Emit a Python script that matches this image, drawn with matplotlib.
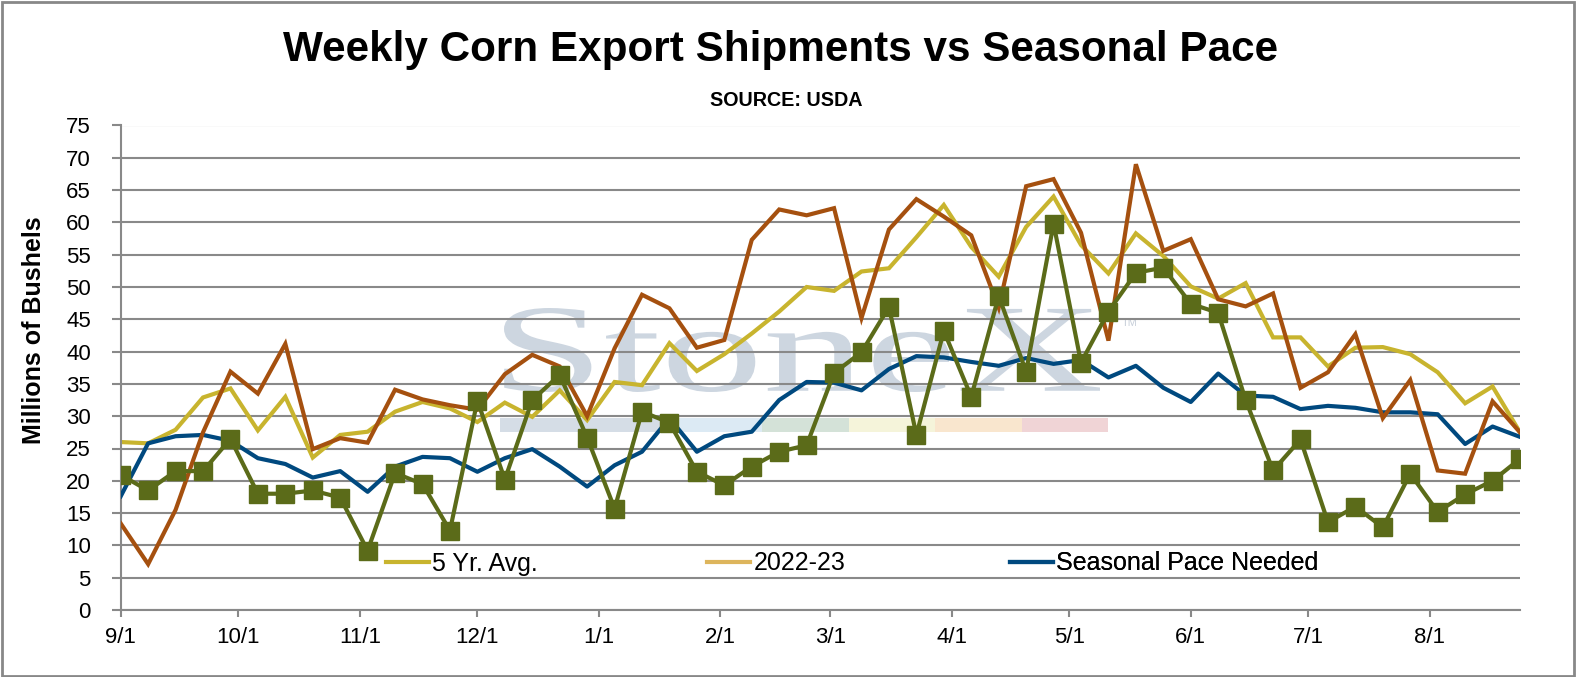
import matplotlib
matplotlib.use("Agg")
import matplotlib.pyplot as plt
import matplotlib.dates as mdates
from matplotlib.ticker import FuncFormatter
from matplotlib.lines import Line2D
from matplotlib.textpath import TextPath
from matplotlib.font_manager import FontProperties
from matplotlib.patches import PathPatch, Rectangle
from matplotlib.transforms import Affine2D
import pandas as pd

# ---------------- data ----------------
week_dates = [
    "2022-09-01", "2022-09-08", "2022-09-15", "2022-09-22", "2022-09-29",
    "2022-10-06", "2022-10-13", "2022-10-20", "2022-10-27", "2022-11-03",
    "2022-11-10", "2022-11-17", "2022-11-24", "2022-12-01", "2022-12-08",
    "2022-12-15", "2022-12-22", "2022-12-29", "2023-01-05", "2023-01-12",
    "2023-01-19", "2023-01-26", "2023-02-02", "2023-02-09", "2023-02-16",
    "2023-02-23", "2023-03-02", "2023-03-09", "2023-03-16", "2023-03-23",
    "2023-03-30", "2023-04-06", "2023-04-13", "2023-04-20", "2023-04-27",
    "2023-05-04", "2023-05-11", "2023-05-18", "2023-05-25", "2023-06-01",
    "2023-06-08", "2023-06-15", "2023-06-22", "2023-06-29", "2023-07-06",
    "2023-07-13", "2023-07-20", "2023-07-27", "2023-08-03", "2023-08-10",
    "2023-08-17", "2023-08-24",
]

five_yr_avg = [26.0, 25.8, 27.9, 32.9, 34.3, 27.8, 33.0, 23.6, 27.1, 27.6,
               30.7, 32.2, 31.2, 29.1, 32.1, 29.9, 34.0, 29.4, 35.3, 34.8,
               41.3, 37.0, 39.6, 42.8, 46.2, 50.0, 49.4, 52.4, 52.9, 57.7,
               62.7, 56.2, 51.6, 59.3, 64.0, 56.5, 52.1, 58.3, 54.8, 50.1,
               48.2, 50.6, 42.2, 42.2, 37.7, 40.6, 40.7, 39.6, 36.8, 32.0,
               34.6, 27.5]

prior_year = [13.4, 7.1, 15.5, 27.5, 36.9, 33.5, 41.2, 24.9, 26.6, 25.9,
              34.1, 32.6, 31.7, 31.0, 36.5, 39.5, 37.7, 30.0, 40.5, 48.8,
              46.7, 40.6, 41.8, 57.3, 62.0, 61.1, 62.2, 45.2, 58.9, 63.6,
              60.9, 58.0, 46.8, 65.6, 66.7, 58.4, 41.7, 69.0, 55.6, 57.4,
              48.1, 47.0, 49.0, 34.4, 36.8, 42.7, 29.7, 35.6, 21.6, 21.1,
              32.3, 27.5]

seasonal_pace = [17.6, 25.8, 26.9, 27.1, 26.2, 23.5, 22.6, 20.5, 21.5, 18.3,
                 22.2, 23.7, 23.5, 21.4, 23.5, 24.9, 22.2, 19.1, 22.4, 24.5,
                 29.7, 24.5, 26.9, 27.6, 32.5, 35.3, 35.2, 34.0, 37.3, 39.3,
                 39.1, 38.4, 37.8, 39.0, 38.1, 38.7, 36.0, 37.8, 34.4, 32.2,
                 36.6, 33.2, 33.0, 31.1, 31.6, 31.3, 30.6, 30.6, 30.3, 25.7,
                 28.4, 26.8]

current_year = [20.9, 18.5, 21.5, 21.5, 26.5, 18.0, 18.0, 18.5, 17.4, 9.2,
                21.2, 19.5, 12.3, 32.4, 20.2, 32.5, 36.4, 26.7, 15.7, 30.7,
                29.0, 21.4, 19.3, 22.2, 24.5, 25.5, 36.7, 39.9, 46.9, 27.1,
                43.2, 33.0, 48.6, 36.9, 59.8, 38.3, 46.2, 52.2, 53.0, 47.4,
                46.0, 32.5, 21.6, 26.4, 13.6, 16.0, 12.8, 21.1, 15.2, 17.9,
                20.0, 23.4]

legend_labels = ["5 Yr. Avg.", "2022-23", "Seasonal Pace Needed"]
y_ticks = list(range(0, 80, 5))

# ---------------- style ----------------
C_YEL = "#C8B42E"
C_BRN = "#A5500F"
C_BLU = "#00497F"
C_GRN = "#5B6B19"
C_TAN = "#DDB55C"
C_GRID = "#898989"

plt.rcParams["font.family"] = ["Liberation Sans", "DejaVu Sans"]

W, H = 1577, 677
fig = plt.figure(figsize=(W / 100, H / 100), dpi=100)
fig.patch.set_facecolor("white")
ax_l, ax_r, ax_t, ax_b = 120.7, 1520.0, 125.5, 610.0
ax = fig.add_axes([ax_l / W, 1 - ax_b / H, (ax_r - ax_l) / W, (ax_b - ax_t) / H])

x = pd.to_datetime(week_dates)

ax.plot(x, five_yr_avg, color=C_YEL, lw=3, zorder=2, solid_joinstyle="miter")
ax.plot(x, seasonal_pace, color=C_BLU, lw=3, zorder=3)
ax.plot(x, prior_year, color=C_BRN, lw=3, zorder=4, solid_joinstyle="miter")
ax.plot(x, current_year, color=C_GRN, lw=3, marker="s", markersize=12.5,
        markerfacecolor=C_GRN, markeredgecolor=C_GRN, zorder=5)

ax.set_xlim(x[0], x[-1])
ax.set_ylim(0, 75)
ax.set_yticks(y_ticks)
ax.xaxis.set_major_locator(mdates.MonthLocator(bymonthday=1))
ax.xaxis.set_major_formatter(FuncFormatter(
    lambda v, p: "{}/{}".format(mdates.num2date(v).month, mdates.num2date(v).day)))

ax.set_axisbelow(True)
ax.yaxis.grid(True, color=C_GRID, lw=1.5)
for s in ["top", "right"]:
    ax.spines[s].set_visible(False)
for s in ["left", "bottom"]:
    ax.spines[s].set_color(C_GRID)
    ax.spines[s].set_linewidth(1.5)
ax.tick_params(axis="y", direction="out", length=6.5, width=1.5, color=C_GRID,
               pad=15, labelsize=16)
ax.tick_params(axis="x", direction="out", length=5, width=1.5, color=C_GRID,
               pad=7.5, labelsize=16)

# ---------------- watermark (pixel coordinates) ----------------
pix = Affine2D().scale(1 / 100) + fig.dpi_scale_trans
tp = TextPath((0, 0), "StoneX", size=100, prop=FontProperties(family="Liberation Serif"))
bb = tp.get_extents()
x0, x1, ytop, ybot = 504, 1100, 308, 392
sx = (x1 - x0) / bb.width
sy = (ybot - ytop) / bb.height
tr = Affine2D().translate(-bb.x0, -bb.y0).scale(sx, sy).translate(x0, H - ybot) + pix
wm = PathPatch(tp, transform=tr, facecolor="#CDD6E0", edgecolor="none", zorder=0.1,
               clip_on=False)
ax.add_artist(wm)
ax.text(1122, H - 326, "TM", transform=pix, fontsize=8, color="#C8D0DA", zorder=0.1)
stripes = [(500, 676, "#D5DDE6"), (676, 762, "#DCEAF4"), (762, 849, "#D4E2D8"),
           (849, 935, "#F5F4DA"), (935, 1022, "#F9E6CE"), (1022, 1108, "#F0D4D6")]
for a, b, c in stripes:
    ax.add_artist(Rectangle((a, H - 432), b - a, 14, transform=pix, facecolor=c,
                            edgecolor="none", zorder=0.1, clip_on=False))

# ---------------- legend (one entry per box, placed like the reference) ----------------
handles = [Line2D([], [], color=C_YEL, lw=3),
           Line2D([], [], color=C_TAN, lw=3),
           Line2D([], [], color=C_BLU, lw=3)]
leg_x = [385.5, 707.0, 1010.0]
for h, lab, lx in zip(handles, legend_labels, leg_x):
    leg = ax.legend([h], [lab], frameon=False, fontsize=18,
                    handlelength=1.72, handletextpad=0.14, borderpad=0,
                    borderaxespad=0, loc="center left",
                    bbox_to_anchor=((lx - ax_l) / (ax_r - ax_l),
                                    (ax_b - 563.5) / (ax_b - ax_t)))
    ax.add_artist(leg)

# ---------------- titles ----------------
fig.text(781 / W, 1 - 50 / H, "Weekly Corn Export Shipments vs Seasonal Pace",
         fontsize=30.4, fontweight="bold", ha="center", va="center")
fig.text(786.5 / W, 1 - 100 / H, "SOURCE: USDA", fontsize=14.2, fontweight="bold",
         ha="center", va="center")
fig.text(34.4 / W, 1 - 330 / H, "Millions of Bushels", rotation=90, fontsize=18,
         fontweight="bold", ha="center", va="center")

# outer border
fig.patches.append(Rectangle((1.5 / W, 1.5 / H), 1572 / W, 674 / H, transform=fig.transFigure,
                             fill=False, edgecolor="#888888", lw=2))

fig.savefig("out.png", dpi=100)
